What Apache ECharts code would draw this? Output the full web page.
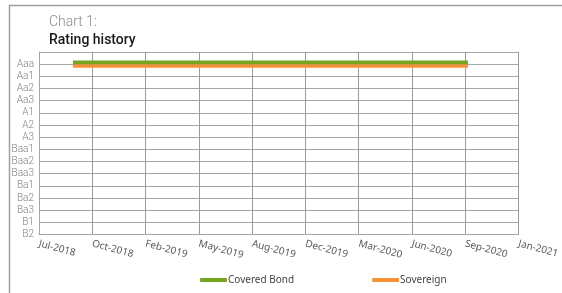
<!DOCTYPE html>
<html>
<head>
<meta charset="utf-8">
<script src="https://cdn.jsdelivr.net/npm/echarts@6/dist/echarts.min.js"></script>
<style>
  html, body { margin: 0; padding: 0; background: #fff; }
  #chart { width: 562px; height: 293px; }
</style>
</head>
<body>
<div id="chart"></div>
<script>
// 评级刻度（从上到下）
const ratings = ["Aaa", "Aa1", "Aa2", "Aa3", "A1", "A2", "A3", "Baa1", "Baa2", "Baa3", "Ba1", "Ba2", "Ba3", "B1", "B2"];
// x 轴刻度标签
const tickLabels = ["Jul-2018", "Oct-2018", "Feb-2019", "May-2019", "Aug-2019", "Dec-2019", "Mar-2020", "Jun-2020", "Sep-2020", "Jan-2021"];
const axisStart = "2018-07-15";
const tickDays = 101;
// 系列数据
const coveredDates = ["2018-09-17", "2020-10-01"];
const coveredRatings = ["Aaa", "Aaa"];
const sovereignDates = ["2018-09-17", "2020-10-01"];
const sovereignRatings = ["Aaa", "Aaa"];

const DAY = 86400000;
const xMin = Date.parse(axisStart);
const xStep = tickDays * DAY;
const xMax = xMin + xStep * (tickLabels.length - 1);
const yCats = [""].concat(ratings);

const toPoints = (dates, vals) => dates.map((d, i) => [Date.parse(d), vals[i]]);

const chart = echarts.init(document.getElementById("chart"));

// 网格位置
const plot = { left: 39, right: 41, top: 52, bottom: 58.5 };
const shift = 1.8;

const xAxisBase = (gridIndex, show) => ({
  type: "value",
  gridIndex,
  min: xMin,
  max: xMax,
  interval: xStep,
  show,
  axisLine: { show: true, lineStyle: { color: "#a6a6a6", width: 1 } },
  axisTick: { show: false },
  splitLine: { show: true, lineStyle: { color: "#9a9a9a", width: 1 } },
  axisLabel: {
    rotate: -15,
    margin: 9,
    color: "#595959",
    fontFamily: "Noto Sans",
    fontSize: 10,
    showMinLabel: true,
    showMaxLabel: true,
    formatter: (v) => tickLabels[Math.round((v - xMin) / xStep)] || "",
  },
});

const yAxisBase = (gridIndex, show) => ({
  type: "category",
  gridIndex,
  data: yCats,
  inverse: true,
  boundaryGap: false,
  show,
  axisLine: { show: true, lineStyle: { color: "#a6a6a6", width: 1 } },
  axisTick: { show: false },
  splitLine: { show: true, lineStyle: { color: "#a6a6a6", width: 1 } },
  axisLabel: {
    interval: 0,
    margin: 5,
    color: "#7f7f7f",
    fontFamily: "Roboto",
    fontWeight: 300,
    fontSize: 10,
  },
});

const option = {
  animation: false,
  textStyle: { fontFamily: "Roboto" },
  graphic: [
    {
      type: "polyline",
      shape: { points: [[9.5, 293], [9.5, 5.5], [562, 5.5]] },
      style: { stroke: "#a0a0a0", lineWidth: 1.5, fill: null },
    },
  ],
  title: [
    {
      text: "Chart 1:",
      left: 49,
      top: 15,
      padding: 0,
      textStyle: { fontFamily: "Roboto", fontWeight: 300, fontSize: 14, color: "#8c8c8c" },
    },
    {
      text: "Rating history",
      left: 49,
      top: 33,
      padding: 0,
      textStyle: { fontFamily: "Roboto", fontWeight: 500, fontSize: 14, color: "#1a1a1a" },
    },
  ],
  legend: {
    left: 200,
    top: 275,
    padding: 0,
    itemWidth: 27,
    itemHeight: 4,
    itemGap: 78,
    icon: "roundRect",
    textStyle: { fontFamily: "Noto Sans", fontSize: 10, color: "#444", padding: [0, 0, 0, -4] },
    data: ["Covered Bond", "Sovereign"],
  },
  grid: [
    plot,
    { left: plot.left, right: plot.right, top: plot.top - shift, bottom: plot.bottom + shift },
    { left: plot.left, right: plot.right, top: plot.top + shift, bottom: plot.bottom - shift },
  ],
  xAxis: [xAxisBase(0, true), xAxisBase(1, false), xAxisBase(2, false)],
  yAxis: [yAxisBase(0, true), yAxisBase(1, false), yAxisBase(2, false)],
  series: [
    {
      name: "Sovereign",
      type: "line",
      xAxisIndex: 2,
      yAxisIndex: 2,
      data: toPoints(sovereignDates, sovereignRatings),
      showSymbol: false,
      color: "#f7923a",
      lineStyle: { width: 3.6, color: "#f7923a" },
      z: 3,
    },
    {
      name: "Covered Bond",
      type: "line",
      xAxisIndex: 1,
      yAxisIndex: 1,
      data: toPoints(coveredDates, coveredRatings),
      showSymbol: false,
      color: "#78a51e",
      lineStyle: { width: 3.6, color: "#78a51e" },
      z: 4,
    },
  ],
};

chart.setOption(option);
window.addEventListener("resize", () => chart.resize());
</script>
</body>
</html>
